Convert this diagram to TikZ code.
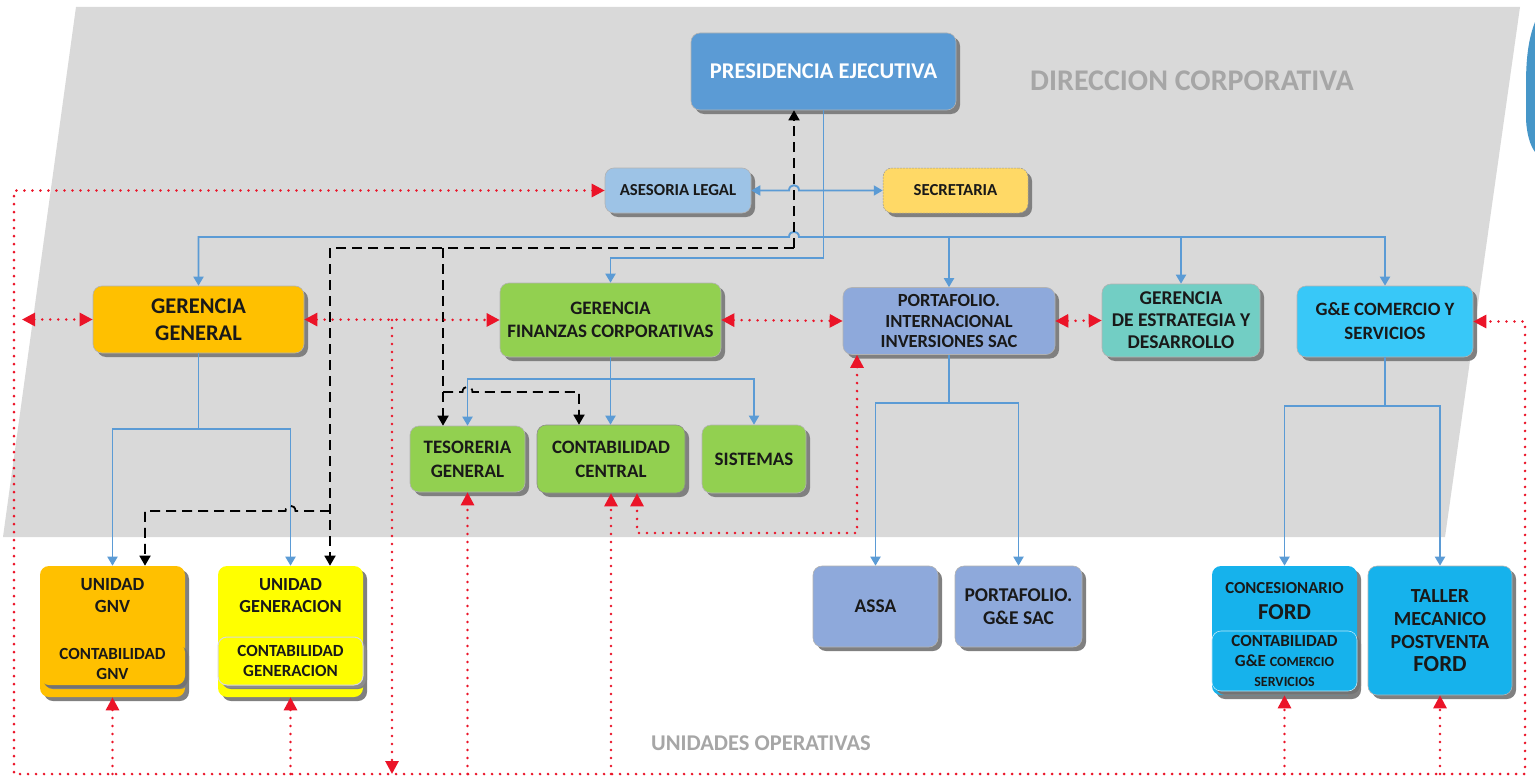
\documentclass[tikz,border=0pt]{standalone}
\usepackage{fontspec}
\setmainfont{Carlito}
\usetikzlibrary{arrows.meta,shadows,backgrounds}
\newcommand{\myfs}[2]{\fontsize{#1}{#2}\selectfont}
\definecolor{bggray}{RGB}{217,217,217}
\definecolor{presblue}{RGB}{91,155,213}
\definecolor{lineblue}{RGB}{91,155,213}
\definecolor{asesblue}{RGB}{157,195,230}
\definecolor{secyel}{RGB}{255,217,102}
\definecolor{ggorange}{RGB}{255,192,0}
\definecolor{fingreen}{RGB}{146,208,80}
\definecolor{portblue}{RGB}{142,169,219}
\definecolor{estteal}{RGB}{114,206,196}
\definecolor{gecyan}{RGB}{56,200,248}
\definecolor{fordblue}{RGB}{22,178,236}
\definecolor{unyel}{RGB}{255,255,0}
\definecolor{titlegray}{RGB}{166,166,166}
\definecolor{logoblue}{RGB}{70,150,200}
\definecolor{dotred}{RGB}{235,20,40}
\tikzset{
  rA/.tip={Triangle[length=13pt,width=13pt]},
  bA/.tip={Triangle[length=9pt,width=10pt]},
  kA/.tip={Triangle[length=10pt,width=11pt]},
}
\begin{document}
\begin{tikzpicture}[x=1pt,y=-1pt,
  box/.style={rounded corners=9pt, draw=black!30, line width=0.6pt, align=center,
    inner sep=0pt, text=black!90,
    drop shadow={shadow xshift=4pt,shadow yshift=-4pt,fill=black!50,opacity=1}},
  fz/.style 2 args={font=\bfseries\fontsize{#1}{#2}\selectfont},
  lbl/.style={align=center, inner sep=0pt, text=black!90},
  bl/.style={draw=lineblue, line width=1.9pt},
  dsh/.style={draw=black, line width=1.8pt, dash pattern=on 10pt off 6pt},
  rd/.style={draw=dotred, line width=2.8pt, dash pattern=on 0pt off 8pt, line cap=round},
]
\useasboundingbox (0,0) rectangle (1535,776);
% background
\fill[white] (0,0) rectangle (1535,776);
\fill[bggray] (76,7) -- (1520,7) -- (1445,537) -- (3,537) -- cycle;
\fill[logoblue] (1535,22) .. controls (1528,40) and (1526,60) .. (1526,85)
   -- (1526,120) .. controls (1527,135) and (1530,145) .. (1535,152) -- cycle;
\node[font=\bfseries\myfs{30}{34}, text=titlegray, inner sep=0pt] (dirc) at (1192,81) {DIRECCION CORPORATIVA};
\node[font=\bfseries\myfs{22.5}{26}, text=titlegray, inner sep=0pt] (unop) at (761,743) {UNIDADES OPERATIVAS};

% nodes
\node[box, fill=presblue, text=white, minimum width=265pt, minimum height=77pt, fz={22.5}{26}] (pres) at (823.5,71.5) {PRESIDENCIA EJECUTIVA};
\node[box, fill=asesblue, minimum width=146pt, minimum height=45pt, fz={16.8}{20}] (ases) at (678,190.5) {ASESORIA LEGAL};
\node[box, fill=secyel, draw=black!40, dash pattern=on 2pt off 1pt, line width=0.5pt, minimum width=145pt, minimum height=45pt, fz={16.8}{20}] (secr) at (955.5,190.5) {SECRETARIA};
\node[box, fill=ggorange, minimum width=211pt, minimum height=67pt, fz={22.4}{27}] (gg) at (198.5,319.5) {GERENCIA\\GENERAL};
\node[box, fill=fingreen, minimum width=221pt, minimum height=74pt, fz={19}{23}] (gf) at (610.5,320) {GERENCIA\\FINANZAS CORPORATIVAS};
\node[box, fill=portblue, minimum width=212pt, minimum height=67pt, fz={18.5}{20.5}] (pint) at (949,321) {PORTAFOLIO.\\INTERNACIONAL\\INVERSIONES SAC};
\node[box, fill=estteal, minimum width=158pt, minimum height=73pt, fz={19.5}{22}] (ged) at (1181,320.5) {GERENCIA\\DE ESTRATEGIA Y\\DESARROLLO};
\node[box, fill=gecyan, minimum width=176pt, minimum height=71pt, fz={18.8}{24}] (gecs) at (1385,321.5) {G\&E COMERCIO Y\\SERVICIOS};
\node[box, fill=fingreen, minimum width=115pt, minimum height=66pt, fz={19}{24}] (tes) at (467.5,459) {TESORERIA\\GENERAL};
\node[box, fill=fingreen, draw=black!45, minimum width=148pt, minimum height=68pt, fz={18.9}{24}] (cc) at (611,459) {CONTABILIDAD\\CENTRAL};
\node[box, fill=fingreen, minimum width=104pt, minimum height=68pt, fz={19}{24}] (sis) at (754,459) {SISTEMAS};

\node[box, fill=ggorange, draw=none, minimum width=145pt, minimum height=131pt] (ugnv) at (112.5,631.5) {};
\node[box, fill=ggorange, draw=none, minimum width=145pt, minimum height=42pt, fz={17}{20},
  drop shadow={shadow xshift=3pt,shadow yshift=-3pt,fill=black!55,opacity=1}] (ugnvc) at (112.5,664) {CONTABILIDAD\\GNV};
\node[lbl, fz={18.6}{22}] (ugnvt) at (112.5,596) {UNIDAD\\GNV};

\node[box, fill=unyel, draw=none, minimum width=145pt, minimum height=131pt] (ugen) at (290.5,631.5) {};
\node[box, fill=unyel, draw=black!15, line width=1pt, minimum width=145pt, minimum height=48pt, fz={17}{20},
  drop shadow={shadow xshift=3pt,shadow yshift=-3pt,fill=black!45,opacity=1}] (ugenc) at (290.5,661) {CONTABILIDAD\\GENERACION};
\node[lbl, fz={18.4}{22}] (ugent) at (290.5,596) {UNIDAD\\GENERACION};

\node[box, fill=portblue, minimum width=125pt, minimum height=81pt, fz={19.4}{22}] (assa) at (875.5,606.5) {ASSA};
\node[box, fill=portblue, minimum width=127pt, minimum height=81pt, fz={19.5}{23}] (pges) at (1018.5,606.5) {PORTAFOLIO.\\G\&E SAC};

\node[box, fill=fordblue, draw=none, minimum width=145pt, minimum height=129pt] (conc) at (1284.5,630.5) {};
\node[box, fill=fordblue, draw=white!70!fordblue, minimum width=145pt, minimum height=60pt, fz={17}{20},
  drop shadow={shadow xshift=3pt,shadow yshift=-3pt,fill=black!55,opacity=1}] (concc) at (1284.5,661)
  {CONTABILIDAD\\G\&E {\fontsize{14}{20}\selectfont COMERCIO}\\{\fontsize{14}{20}\selectfont SERVICIOS}};
\node[lbl, fz={16.8}{26}] (conct) at (1284.5,601) {CONCESIONARIO\\{\fontsize{22.8}{26}\selectfont FORD}};
\node[box, fill=fordblue, minimum width=144pt, minimum height=129pt, fz={20}{23}] (taller) at (1440,630.5)
  {TALLER\\MECANICO\\POSTVENTA\\{\fontsize{23}{23}\selectfont FORD}};

% coordinates
\coordinate (pj) at (823.5,237);
\coordinate (pj2) at (823.5,258);
\coordinate (gg1) at (198.5,429);
\coordinate (gf1) at (610.5,379);
\coordinate (pi1) at (949,403);
\coordinate (gc1) at (1385,406);
\coordinate (d1) at (794,248);
\coordinate (d2) at (443,248);
\coordinate (d3) at (330,248);
\coordinate (d4) at (330,511);
\coordinate (d5) at (145,511);
\coordinate (d6) at (443,392);
\coordinate (d7) at (579,392);
\coordinate (rBL) at (14,774);
\coordinate (rBR) at (1525,774);
\coordinate (gl) at (22,319.5);
\coordinate (rg) at (392,320);
\coordinate (rp) at (857,533);
\coordinate (rc) at (637,533);

% blue connectors
\draw[bl,-bA] (pres.south) -- (pj2) -| (gf.north);
\draw[bl,-bA] (pj) -- (799,237) .. controls (799,230) and (789,230) .. (789,237) -| (gg.north);
\draw[bl,-bA] (pj) -| (gecs.north);
\draw[bl,-bA] (pint.north |- pj) -- (pint.north);
\draw[bl,-bA] (ged.north |- pj) -- (ged.north);
\draw[bl,bA-bA] (ases.east) -- (789,190.5) .. controls (789,183.5) and (799,183.5) .. (799,190.5) -- (secr.west);
\draw[bl] (gg.south) -- (gg1);
\draw[bl,-bA] (gg1) -| (ugnv.north);
\draw[bl,-bA] (gg1) -| (ugen.north);
\draw[bl,-bA] (gf.south) -- (gf.south |- cc.north);
\draw[bl,-bA] (gf1) -| (tes.north);
\draw[bl,-bA] (gf1) -| (sis.north);
\draw[bl] (pint.south) -- (pi1);
\draw[bl,-bA] (pi1) -| (assa.north);
\draw[bl,-bA] (pi1) -| (pges.north);
\draw[bl] (gecs.south) -- (gc1);
\draw[bl,-bA] (gc1) -| (conc.north);
\draw[bl,-bA] (gc1) -| (taller.north);

% black dashed connectors
\draw[dsh,-kA] (d1) -- (d1 |- pres.south);
\draw[dsh,-kA] (d1) -- (d3) -- (d3 |- ugen.north);
\draw[dsh,-kA] (d4) -- (295.5,511) .. controls (295.5,504) and (285.5,504) .. (285.5,511) -- (d5) -- (d5 |- ugnv.north);
\draw[dsh,-kA] (d2) -- (d2 |- tes.north);
\draw[dsh,-kA] (d6) -- (462.5,392) .. controls (462.5,385) and (472.5,385) .. (472.5,392) -- (d7) -- (d7 |- cc.north);

% red dotted connectors
\draw[rd,rA-rA] (ases.west) -| (rBL) -- (rBR) |- (gecs.east);
\draw[rd,rA-rA] (gl) -- (gg.west);
\draw[rd,rA-rA] (gg.east) -- (gf.west);
\draw[rd,-rA] (rg) -- (rg |- rBL);
\draw[rd,rA-rA] (gf.east) -- (pint.west);
\draw[rd,rA-rA] (pint.east) -- (ged.west);
\draw[rd,-rA] (tes.south |- rBL) -- (tes.south);
\draw[rd,-rA] (cc.south |- rBL) -- (cc.south);
\draw[rd,rA-rA] (rp |- pint.south) -- (rp) -- (rc) -- (rc |- cc.south);
\draw[rd,-rA] (ugnv.south |- rBL) -- (ugnv.south);
\draw[rd,-rA] (ugen.south |- rBL) -- (ugen.south);
\draw[rd,-rA] (conc.south |- rBL) -- (conc.south);
\draw[rd,-rA] (taller.south |- rBL) -- (taller.south);
\end{tikzpicture}
\end{document}
